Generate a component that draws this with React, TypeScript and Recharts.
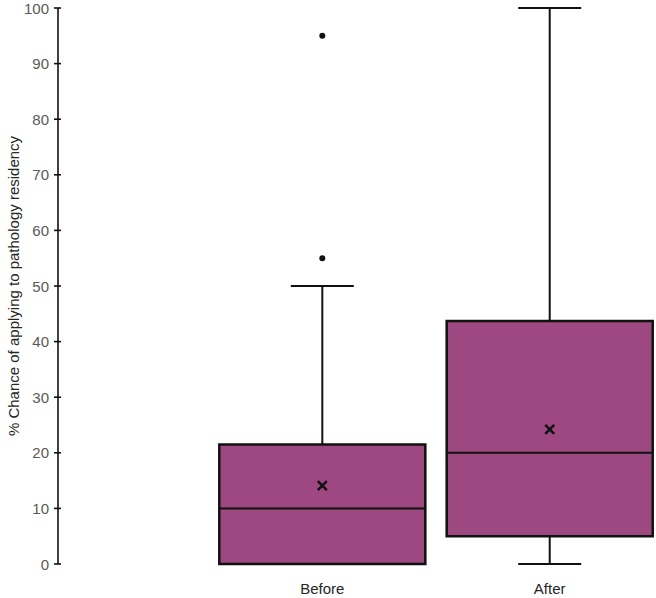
import React from "react";
import {
  ComposedChart,
  XAxis,
  YAxis,
  Scatter,
  ReferenceArea,
  ReferenceLine,
} from "recharts";

const categories = ["Before", "After"];
const positions = [1, 2];
const whiskerLow = [0, 0];
const q1 = [0, 5];
const median = [10, 20];
const q3 = [21.5, 43.7];
const whiskerHigh = [50, 100];
const means = [14.1, 24.2];
const outlierCategory = [1, 1];
const outlierValues = [55, 95];
const yTicks = [0, 10, 20, 30, 40, 50, 60, 70, 80, 90, 100];

const BOX_HALF = 0.453;
const CAP_HALF = 0.1385;
const FILL = "#9D4881";
const INK = "#111111";
const FONT = "'Liberation Sans', Arial, sans-serif";

const meanData = positions.map((x, i) => ({ x, y: means[i] }));
const outlierData = outlierValues.map((y, i) => ({ x: outlierCategory[i], y }));

const YTick = (props: any) => {
  const { x, y, payload } = props;
  return (
    <g>
      <line x1={x + 5} x2={x + 12} y1={y} y2={y} stroke={INK} strokeWidth={1.6} />
      <text
        x={x}
        y={y}
        dy={5.5}
        textAnchor="end"
        fontSize={15}
        fontFamily={FONT}
        fill="#595959"
      >
        {payload.value}
      </text>
    </g>
  );
};

const XTick = (props: any) => {
  const { x, y, payload } = props;
  const idx = positions.indexOf(payload.value);
  return (
    <text
      x={x}
      y={y}
      dy={12}
      textAnchor="middle"
      fontSize={15}
      fontFamily={FONT}
      fill="#262626"
    >
      {idx >= 0 ? categories[idx] : ""}
    </text>
  );
};

const MeanCross = (props: any) => {
  const { cx, cy } = props;
  const s = 4.5;
  return (
    <path
      d={`M${cx - s},${cy - s}L${cx + s},${cy + s}M${cx - s},${cy + s}L${cx + s},${cy - s}`}
      stroke={INK}
      strokeWidth={2.5}
      fill="none"
    />
  );
};

const OutlierDot = (props: any) => {
  const { cx, cy } = props;
  return <circle cx={cx} cy={cy} r={3} fill={INK} />;
};

export default function App() {
  return (
    <div style={{ position: "absolute", left: 0, top: 0 }}>
      <ComposedChart
        width={656}
        height={598}
        margin={{ top: 8, right: 0, bottom: 0, left: 0 }}
      >
        <XAxis
          type="number"
          dataKey="x"
          domain={[-0.1623, 2.4674]}
          ticks={positions}
          axisLine={false}
          tickLine={false}
          tickSize={6}
          tickMargin={12}
          height={34}
          tick={<XTick />}
          allowDataOverflow
        />
        <YAxis
          type="number"
          domain={[0, 100]}
          ticks={yTicks}
          width={58}
          axisLine={{ stroke: INK, strokeWidth: 1.6 }}
          tickLine={false}
          tickSize={4}
          tickMargin={5}
          tick={<YTick />}
          interval={0}
          allowDataOverflow
          label={{
            content: (p: any) => {
              const vb = p.viewBox || { x: 0, y: 8, width: 58, height: 556 };
              const cy = vb.y + vb.height / 2;
              return (
                <text
                  x={13}
                  y={cy}
                  transform={`rotate(-90, 13, ${cy})`}
                  textAnchor="middle"
                  dominantBaseline="central"
                  fontSize={15}
                  fontFamily={FONT}
                  fill="#262626"
                >
                  % Chance of applying to pathology residency
                </text>
              );
            },
          }}
        />
        {positions.map((p, i) => (
          <ReferenceLine
            key={`wu${i}`}
            segment={[
              { x: p, y: q3[i] },
              { x: p, y: whiskerHigh[i] },
            ]}
            stroke={INK}
            strokeWidth={2}
            ifOverflow="visible"
          />
        ))}
        {positions.map((p, i) => (
          <ReferenceLine
            key={`wl${i}`}
            segment={[
              { x: p, y: whiskerLow[i] },
              { x: p, y: q1[i] },
            ]}
            stroke={INK}
            strokeWidth={2}
            ifOverflow="visible"
          />
        ))}
        {positions.map((p, i) => (
          <ReferenceLine
            key={`cu${i}`}
            segment={[
              { x: p - CAP_HALF, y: whiskerHigh[i] },
              { x: p + CAP_HALF, y: whiskerHigh[i] },
            ]}
            stroke={INK}
            strokeWidth={2}
            ifOverflow="visible"
          />
        ))}
        {positions.map((p, i) =>
          whiskerLow[i] < q1[i] ? (
            <ReferenceLine
              key={`cl${i}`}
              segment={[
                { x: p - CAP_HALF, y: whiskerLow[i] },
                { x: p + CAP_HALF, y: whiskerLow[i] },
              ]}
              stroke={INK}
              strokeWidth={2}
              ifOverflow="visible"
            />
          ) : null
        )}
        {positions.map((p, i) => (
          <ReferenceArea
            key={`box${i}`}
            x1={p - BOX_HALF}
            x2={p + BOX_HALF}
            y1={q1[i]}
            y2={q3[i]}
            fill={FILL}
            fillOpacity={1}
            stroke={INK}
            strokeWidth={2.5}
            ifOverflow="visible"
          />
        ))}
        {positions.map((p, i) => (
          <ReferenceLine
            key={`med${i}`}
            segment={[
              { x: p - BOX_HALF, y: median[i] },
              { x: p + BOX_HALF, y: median[i] },
            ]}
            stroke={INK}
            strokeWidth={2}
            ifOverflow="visible"
          />
        ))}
        <Scatter
          data={meanData}
          dataKey="y"
          shape={<MeanCross />}
          isAnimationActive={false}
        />
        <Scatter
          data={outlierData}
          dataKey="y"
          shape={<OutlierDot />}
          isAnimationActive={false}
        />
      </ComposedChart>
    </div>
  );
}
